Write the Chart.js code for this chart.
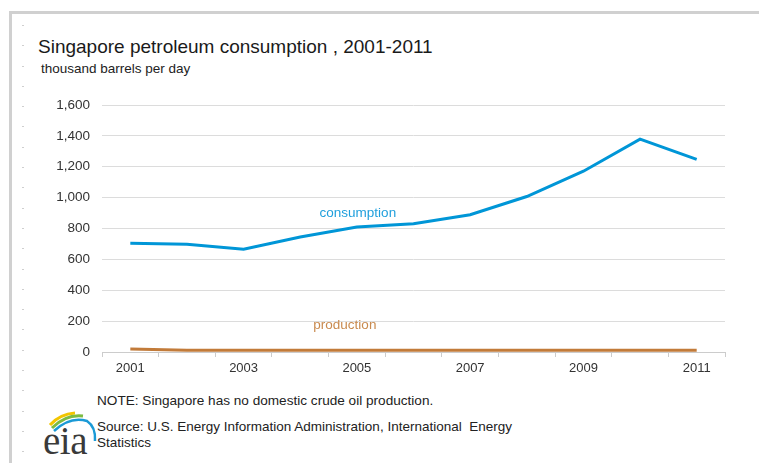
<!DOCTYPE html>
<html>
<head>
<meta charset="utf-8">
<script src="https://cdn.jsdelivr.net/npm/chart.js@4"></script>
<style>
  html, body { margin: 0; padding: 0; background: #fff; }
  body { width: 759px; height: 463px; position: relative; overflow: hidden;
         font-family: "Liberation Sans", Arial, sans-serif; }
  #frame { position: absolute; left: 9px; top: 11px; right: 0; bottom: 0;
           border-top: 3px solid #d0d0d0; border-left: 3px solid #d0d0d0; }
  #dashes { position: absolute; left: 22px; top: 25px; width: 2px; height: 435px;
            background: repeating-linear-gradient(to bottom, #cfcfcf 0, #cfcfcf 1px, transparent 1px, transparent 20.3px); }
  .txt { position: absolute; white-space: nowrap; color: #1a1a1a; }
  #title { left: 38px; top: 36px; font-size: 19px; line-height: 22px; }
  #subtitle { left: 41px; top: 61px; font-size: 13.5px; line-height: 16px; color: #222; }
  #note { left: 97px; top: 393px; font-size: 13.6px; line-height: 16px; color: #222; }
  #source { left: 97px; top: 419px; font-size: 13.5px; line-height: 16px; color: #222; }
  #logo { position: absolute; left: 0; top: 0; }
  #eia { left: 43px; top: 423px; font-family: "Liberation Serif", "DejaVu Serif", serif;
         font-size: 39px; line-height: 36px; color: #3a3a3a; letter-spacing: -0.5px; }
  canvas { position: absolute; left: 0; top: 0; }
</style>
</head>
<body>
<div id="frame"></div>
<div id="dashes"></div>
<div class="txt" id="title">Singapore petroleum consumption , 2001-2011</div>
<div class="txt" id="subtitle">thousand barrels per day</div>
<div class="txt" id="note">NOTE: Singapore has no domestic crude oil production.</div>
<div class="txt" id="source">Source: U.S. Energy Information Administration, International&nbsp; Energy<br>Statistics</div>
<svg id="logo" width="120" height="463">
  <path d="M50 425 Q60 414 75 413" fill="none" stroke="#f2c500" stroke-width="3"/>
  <path d="M52 428 Q66 414 83 416" fill="none" stroke="#7dbb42" stroke-width="3"/>
  <path d="M54 431 Q70 416 87 421 Q96 427 95 441" fill="none" stroke="#1b9ad6" stroke-width="2.5"/>
</svg>
<div class="txt" id="eia">eia</div>
<canvas id="chart" width="759" height="463"></canvas>
<script>
const years = ["2001", "2002", "2003", "2004", "2005", "2006", "2007", "2008", "2009", "2010", "2011"];
const consumption = [705, 698, 666, 745, 810, 831, 889, 1007, 1171, 1379, 1248];
const production = [20, 12, 12, 12, 12, 12, 12, 12, 12, 12, 12];
const yTicks = [0, 200, 400, 600, 800, 1000, 1200, 1400, 1600];

const FONT = '"Liberation Sans", Arial, sans-serif';

const seriesLabels = {
  id: "seriesLabels",
  afterDatasetsDraw(chart) {
    const { ctx, scales } = chart;
    const x = scales.x, y = scales.y;
    ctx.save();
    ctx.font = "13.5px " + FONT;
    ctx.textAlign = "center";
    ctx.textBaseline = "middle";
    ctx.fillStyle = "#1f9fdc";
    ctx.fillText("consumption", x.getPixelForValue(4) + 1, y.getPixelForValue(900));
    ctx.fillStyle = "#c98a4e";
    ctx.fillText("production", x.getPixelForValue(4) - 12, y.getPixelForValue(175));
    ctx.restore();
  },
};

new Chart(document.getElementById("chart"), {
  type: "line",
  data: {
    labels: years,
    datasets: [
      {
        label: "consumption",
        data: consumption,
        borderColor: "#0096d7",
        borderWidth: 3,
        pointRadius: 0,
        tension: 0,
      },
      {
        label: "production",
        data: production,
        borderColor: "#c27b3a",
        borderWidth: 3,
        pointRadius: 0,
        tension: 0,
      },
    ],
  },
  options: {
    responsive: false,
    animation: false,
    layout: { padding: { top: 105, right: 34, bottom: 81, left: 0 } },
    plugins: {
      legend: { display: false },
      tooltip: { enabled: false },
    },
    scales: {
      x: {
        offset: true,
        afterFit: (scale) => { scale.height = 30; },
        grid: { drawOnChartArea: false, drawTicks: true, tickLength: 5, offset: true, color: "#cccccc" },
        border: { display: true, color: "#cccccc" },
        ticks: {
          padding: 4,
          maxRotation: 0,
          color: "#333",
          font: { family: FONT, size: 13 },
          callback: (v, i) => (i % 2 === 0 ? years[i] : ""),
          autoSkip: false,
        },
      },
      y: {
        min: 0,
        max: 1600,
        afterFit: (scale) => { scale.width = 102; },
        afterBuildTicks: (scale) => { scale.ticks = yTicks.map((v) => ({ value: v })); },
        grid: { color: "#dcdcdc", drawTicks: false },
        border: { display: false },
        ticks: {
          padding: 12,
          color: "#333",
          font: { family: FONT, size: 13.5 },
          callback: (v) => v.toLocaleString("en-US"),
        },
      },
    },
  },
  plugins: [seriesLabels],
});
</script>
</body>
</html>
